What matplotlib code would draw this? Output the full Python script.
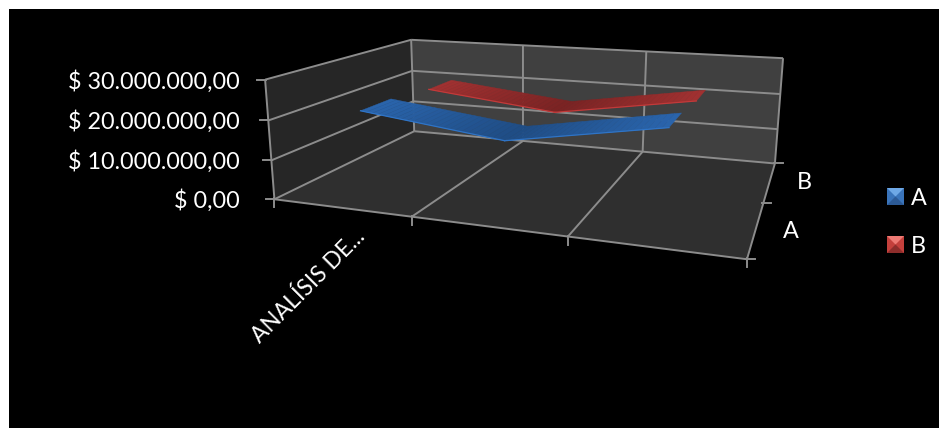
import numpy as np
import matplotlib
matplotlib.use("Agg")
import matplotlib.pyplot as plt
from matplotlib.patches import Polygon, Rectangle
from matplotlib.collections import PolyCollection

# ---- data ----
categories = ["ANALÍSIS DE...", "", ""]
series_names = ["A", "B"]
values_a = [21500000, 17200000, 23400000]
values_b = [20000000, 16100000, 21900000]
value_ticks = [0, 10000000, 20000000, 30000000]
value_labels = ["$ 0,00", "$ 10.000.000,00", "$ 20.000.000,00", "$ 30.000.000,00"]

W, H = 939, 428
plt.rcParams['font.family'] = ['Lato', 'DejaVu Sans']
FS = 16.8

# camera of the 3D scene: (category, depth, value in millions) -> picture pixel
cal = [((0,0,0),(275,199)),((0,2,0),(414,131)),((0,2,30),(411.7,40)),((0,0,30),(265,80)),
       ((3,0,0),(746.7,259.3)),((3,2,0),(775,163)),((3,2,30),(783,58)),
       ((1,0,0),(412,217)),((2,0,0),(568,237)),((1,2,0),(523,141.7)),((2,2,0),(642.7,151.7)),
       ((0,0,20),(268,120)),((0,0,10),(271,160)),((0,2,10),(413,101)),((0,2,20),(412,71))]
A, b = [], []
for (X, Y, Z), (u, v) in cal:
    A.append([X,Y,Z,1,0,0,0,0,-u*X,-u*Y,-u*Z]); b.append(u)
    A.append([0,0,0,0,X,Y,Z,1,-v*X,-v*Y,-v*Z]); b.append(v)
P = np.append(np.linalg.lstsq(np.array(A, float), np.array(b, float), rcond=None)[0], 1).reshape(3, 4)

def proj(x, y, z):
    q = P @ np.array([x, y, z, 1.0])
    return q[0] / q[2], q[1] / q[2]

fig = plt.figure(figsize=(W / 100, H / 100), dpi=100, facecolor='white')
ax = fig.add_axes([0, 0, 1, 1])
ax.set_xlim(0, W); ax.set_ylim(H, 0); ax.axis('off')
ax.add_patch(Rectangle((9, 9), W - 9, H - 9, fc='black', ec='none', zorder=0))

ncat = len(categories); zmax = value_ticks[-1] / 1e6
def poly(pts, color, z=1):
    ax.add_patch(Polygon([proj(*p) for p in pts], closed=True, fc=color, ec='none', zorder=z))
poly([(0,0,0),(0,2,0),(0,2,zmax),(0,0,zmax)], '#262626')
poly([(0,2,0),(ncat,2,0),(ncat,2,zmax),(0,2,zmax)], '#404040')
poly([(0,0,0),(ncat,0,0),(ncat,2,0),(0,2,0)], '#2f2f2f')

GRID = '#8c8c8c'
LW = 1.4
def line(p, q, z=2):
    a, c = proj(*p), proj(*q)
    ax.plot([a[0], c[0]], [a[1], c[1]], color=GRID, lw=LW, zorder=z, solid_capstyle='butt')
for t, lab in zip(value_ticks, value_labels):
    zv = t / 1e6
    line((0,0,zv), (0,2,zv)); line((0,2,zv), (ncat,2,zv))
    u, v = proj(0,0,zv)
    ax.plot([u - 8, u + 1], [v, v], color=GRID, lw=LW, zorder=2)
    ax.text(240, v + 1.5, lab, color='white', fontsize=FS, ha='right', va='center', zorder=5)
line((0,0,0), (0,0,zmax)); line((0,2,0), (0,2,zmax))
line((ncat,2,0), (ncat,2,zmax)); line((0,0,0), (ncat,0,0))
line((ncat,0,0), (ncat,2,0))
for i in range(ncat + 1):
    if 0 < i < ncat:
        line((i,0,0), (i,2,0)); line((i,2,0), (i,2,zmax))
    u, v = proj(i,0,0)
    ax.plot([u, u], [v - 1, v + 8], color=GRID, lw=LW, zorder=2)
for d in [0, 1, 2]:
    u, v = proj(ncat,d,0)
    ax.plot([u - 1, u + 8], [v, v], color=GRID, lw=LW, zorder=2)

# ribbons
hw = 0.205
def ribbon(vals, d, c_out, c_in, c_edge, z):
    vals = [x / 1e6 for x in vals]
    for i in range(ncat - 1):
        polys, cols = [], []
        n = 24
        c0 = np.array(matplotlib.colors.to_rgb(c_out if i == 0 else c_in))
        c1 = np.array(matplotlib.colors.to_rgb(c_in if i == 0 else c_out))
        for k in range(n):
            t0, t1 = k / n, (k + 1) / n
            x0, x1 = i + .5 + t0, i + .5 + t1
            z0 = vals[i] + (vals[i+1] - vals[i]) * t0
            z1 = vals[i] + (vals[i+1] - vals[i]) * t1
            polys.append([proj(x0,d-hw,z0), proj(x1,d-hw,z1), proj(x1,d+hw,z1), proj(x0,d+hw,z0)])
            cols.append(c0 + (c1 - c0) * (t0 + t1) / 2)
        ax.add_collection(PolyCollection(polys, facecolors=cols, edgecolors=cols, linewidths=0.3, zorder=z))
        a, c = proj(i + .5, d - hw, vals[i]), proj(i + 1.5, d - hw, vals[i+1])
        ax.plot([a[0], c[0]], [a[1], c[1]], color=c_edge, lw=0.9, zorder=z + 0.1)

ribbon(values_b, 1.5, '#a13131', '#7a2323', '#c23a3a', 3)
ribbon(values_a, 0.5, '#2a64ac', '#1f4c84', '#2f74c6', 3.5)

# labels
ax.text(361, 233, categories[0], color='white', fontsize=16.4, rotation=45,
        rotation_mode='anchor', ha='right', va='center', zorder=5)
ax.text(791, 231, series_names[0], color='white', fontsize=FS, ha='center', va='center')
ax.text(804, 182, series_names[1], color='white', fontsize=FS, ha='center', va='center')

# legend with bevelled keys
def key(x, y, s, top, side, bottom):
    c = (x + s / 2, y + s / 2)
    ax.add_patch(Rectangle((x, y), s, s, fc=side, ec='none', zorder=4))
    ax.add_patch(Polygon([(x, y), (x + s, y), c], fc=top, ec='none', zorder=4.1))
    ax.add_patch(Polygon([(x, y + s), (x + s, y + s), c], fc=bottom, ec='none', zorder=4.1))
key(887, 188, 17, '#6ea8e6', '#3a74ba', '#2c5a96')
key(887, 236, 17, '#ee7a74', '#c4403c', '#8e2d2b')
ax.text(911, 198, series_names[0], color='white', fontsize=FS, va='center', ha='left')
ax.text(911, 246, series_names[1], color='white', fontsize=FS, va='center', ha='left')

fig.savefig("out.png", dpi=100)
